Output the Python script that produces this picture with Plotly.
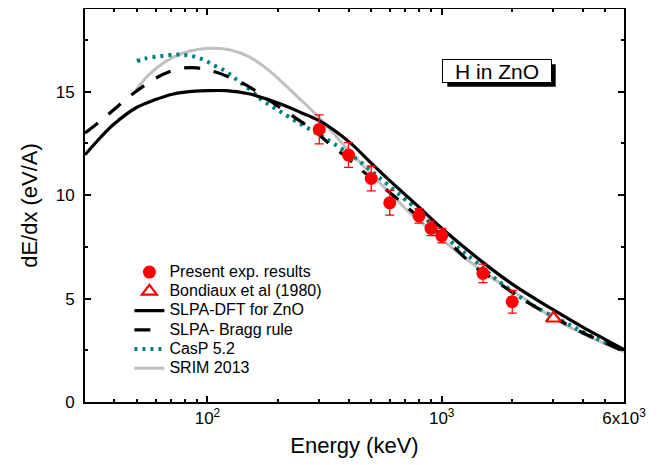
import plotly.graph_objects as go

# ---------------- data ----------------
energy_dft = [30, 35, 40, 50, 60, 70, 80, 100, 120, 150, 200, 250, 300, 400, 500, 600, 800, 1000, 1500, 2000, 3000, 4000, 5000, 6000]
dedx_dft = [11.95, 12.8, 13.45, 14.25, 14.62, 14.87, 14.98, 15.05, 15.05, 14.9, 14.45, 14.0, 13.6, 12.6, 11.55, 10.7, 9.42, 8.4, 6.75, 5.7, 4.45, 3.62, 3.02, 2.53]

energy_bragg = [30, 35, 40, 45, 50, 60, 70, 80, 90, 100, 110, 130, 150, 170, 200, 240, 290, 330, 400, 450, 530, 620, 750, 1000, 1160, 1400, 1560, 2000, 2550, 3000, 4000, 5000, 6000]
dedx_bragg = [13.0, 13.6, 14.15, 14.65, 15.05, 15.65, 16.0, 16.15, 16.15, 16.05, 15.93, 15.6, 15.25, 14.85, 14.3, 13.7, 13.05, 12.5, 11.75, 11.25, 10.6, 10.0, 9.2, 8.05, 7.35, 6.5, 6.15, 5.3, 4.55, 4.1, 3.35, 2.85, 2.45]

energy_casp = [50, 54, 63, 74, 80, 86, 93, 100, 108, 117, 127, 136, 148, 160, 170, 204, 253, 300, 345, 435, 547, 688, 747, 924, 1181, 1393, 1724, 2352, 3320, 4500, 6000]
dedx_casp = [16.48, 16.6, 16.72, 16.8, 16.78, 16.72, 16.61, 16.45, 16.24, 16.05, 15.78, 15.5, 15.2, 14.88, 14.62, 14.05, 13.4, 12.92, 12.5, 11.73, 10.81, 9.85, 9.52, 8.5, 7.43, 6.8, 5.9, 4.8, 3.88, 3.1, 2.5]

energy_srim = [49.5, 56, 66, 78, 92, 105, 127, 150, 175, 200, 240, 300, 394, 547, 603, 735, 837, 1163, 1614, 2240, 3000, 4000, 6000]
dedx_srim = [15.08, 15.8, 16.45, 16.85, 17.05, 17.1, 17.0, 16.7, 16.2, 15.65, 14.8, 13.75, 12.26, 10.57, 10.1, 9.12, 8.6, 7.26, 6.06, 5.01, 4.05, 3.3, 2.43]

energy_exp = [300, 400, 500, 600, 800, 900, 1000, 1500, 2000]
dedx_exp = [13.18, 11.94, 10.81, 9.63, 9.0, 8.39, 8.04, 6.22, 4.85]
err_exp = [0.7, 0.6, 0.6, 0.6, 0.35, 0.35, 0.35, 0.45, 0.55]

energy_bond = [3000]
dedx_bond = [4.05]

x_tickvals = [100, 1000, 6000]
x_ticktext = ["10<sup>2</sup>", "10<sup>3</sup>", "6x10<sup>3</sup>"]
x_minor = [30, 40, 50, 60, 70, 80, 90, 200, 300, 400, 500, 600, 700, 800, 900, 2000, 3000, 4000, 5000]
y_tickvals = [0, 5, 10, 15]
y_minor = [2.5, 7.5, 12.5, 17.5]

FONT = "Arial, Liberation Sans, Helvetica, sans-serif"
RED = "#ff0000"
TEAL = "#008080"
GRAY = "#c0c0c0"


def lg(name):
    return "<span style='font-size:16px'>" + name + "</span>"


fig = go.Figure()

fig.add_trace(go.Scatter(x=energy_srim, y=dedx_srim, mode="lines", name=lg("SRIM 2013"),
                         line=dict(color=GRAY, width=3, shape="spline"), legendrank=6))
fig.add_trace(go.Scatter(x=energy_casp, y=dedx_casp, mode="lines", name=lg("CasP 5.2"),
                         line=dict(color=TEAL, width=4, dash="3px,5px", shape="spline"), legendrank=5))
fig.add_trace(go.Scatter(x=energy_bragg, y=dedx_bragg, mode="lines", name=lg("SLPA- Bragg rule"),
                         line=dict(color="black", width=3.2, dash="16px,14px", shape="spline"), legendrank=4))
fig.add_trace(go.Scatter(x=energy_dft, y=dedx_dft, mode="lines", name=lg("SLPA-DFT for ZnO"),
                         line=dict(color="black", width=3.2, shape="spline"), legendrank=3))
fig.add_trace(go.Scatter(x=energy_exp, y=dedx_exp, mode="markers", name=lg("Present exp. results"),
                         marker=dict(color=RED, size=13, symbol="circle"),
                         error_y=dict(type="data", array=err_exp, color=RED, thickness=1.3, width=4.5),
                         legendrank=1))
fig.add_trace(go.Scatter(x=energy_bond, y=dedx_bond, mode="markers", name=lg("Bondiaux et al (1980)"),
                         marker=dict(color="white", size=13, symbol="triangle-up",
                                     line=dict(color=RED, width=2.2)),
                         legendrank=2))

axis_common = dict(showline=True, linecolor="black", linewidth=1.8, mirror="ticks",
                   ticks="inside", ticklen=6, tickwidth=1.5, tickcolor="black",
                   showgrid=False, zeroline=False,
                   tickfont=dict(family=FONT, size=17, color="black"))

fig.update_xaxes(type="log", range=[1.47712, 3.77815], tickmode="array",
                 tickvals=x_tickvals, ticktext=x_ticktext, automargin=False,
                 minor=dict(tickmode="array", tickvals=x_minor, ticks="inside", ticklen=3.5,
                            tickwidth=1.5, tickcolor="black"),
                 title=dict(text="Energy (keV)", font=dict(family=FONT, size=22, color="black"), standoff=10),
                 **axis_common)
fig.update_yaxes(range=[0, 19], tickmode="array", tickvals=y_tickvals, automargin=True,
                 ticklabelstandoff=5,
                 minor=dict(tickmode="array", tickvals=y_minor, ticks="inside", ticklen=3.5,
                            tickwidth=1.5, tickcolor="black"),
                 title=dict(text="dE/dx (eV/A)", font=dict(family=FONT, size=22, color="black"), standoff=12),
                 **axis_common)

# shadow of the label box
fig.add_shape(type="rect", xref="paper", yref="paper", x0=0.6722, x1=0.8733, y0=0.8023, y1=0.8593,
              fillcolor="black", line=dict(color="black", width=0), layer="above")
fig.add_annotation(xref="paper", yref="paper", x=0.7635, y=0.8435, xanchor="center", yanchor="middle",
                   text="H in ZnO",
                   showarrow=False, font=dict(family=FONT, size=21, color="black"),
                   bgcolor="white", bordercolor="black", borderwidth=1, borderpad=2,
                   width=104, height=18)

fig.update_layout(
    width=662, height=465,
    margin=dict(l=77, r=46, t=1, b=71, autoexpand=False),
    paper_bgcolor="white", plot_bgcolor="white",
    font=dict(family=FONT, color="black"),
    legend=dict(x=0.0824, y=0.3677, xanchor="left", yanchor="top",
                bgcolor="rgba(0,0,0,0)", borderwidth=0,
                font=dict(family=FONT, size=12.5, color="black"),
                tracegroupgap=0, itemwidth=30),
)

fig.write_html("out.html")
